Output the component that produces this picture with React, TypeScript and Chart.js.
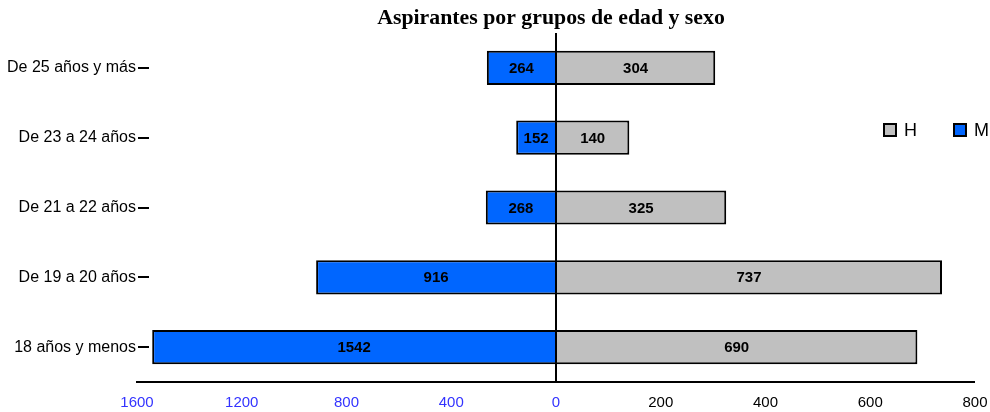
import React, { useEffect, useRef } from "react";
import { Chart, registerables } from "chart.js";

Chart.register(...registerables);

const categories = [
  "De 25 años y más",
  "De 23 a 24 años",
  "De 21 a 22 años",
  "De 19 a 20 años",
  "18 años y menos",
];
const mujeres = [264, 152, 268, 916, 1542];
const hombres = [304, 140, 325, 737, 690];
// left side of the axis is drawn at half scale (1600 on the left equals 800 on the right)
const leftScaleFactor = 2;
const xTickStep = 200;
const xMin = -800;
const xMax = 800;

const titleText = "Aspirantes por grupos de edad y sexo";
const BLUE = "#0066FF";
const GRAY = "#C0C0C0";
const SANS = "'Liberation Sans', Arial, sans-serif";

export default function App() {
  const ref = useRef<HTMLCanvasElement | null>(null);

  useEffect(() => {
    if (!ref.current) return;
    const overlay = {
      id: "overlay",
      afterDatasetsDraw(chart: any) {
        const ctx = chart.ctx;
        const area = chart.chartArea;
        const xScale = chart.scales.x;
        ctx.save();
        // zero line
        const x0 = Math.round(xScale.getPixelForValue(0));
        ctx.strokeStyle = "#000";
        ctx.lineWidth = 2;
        ctx.beginPath();
        ctx.moveTo(x0, area.top);
        ctx.lineTo(x0, area.bottom);
        ctx.stroke();
        // value labels
        ctx.font = "bold 15px " + SANS;
        ctx.fillStyle = "#000";
        ctx.textAlign = "center";
        ctx.textBaseline = "middle";
        chart.data.datasets.forEach((ds: any, di: number) => {
          const meta = chart.getDatasetMeta(di);
          meta.data.forEach((el: any, i: number) => {
            const p = el.getProps(["x", "y", "base"], true);
            const raw = di === 0 ? mujeres[i] : hombres[i];
            ctx.fillText(String(raw), (p.x + p.base) / 2, p.y + 1);
          });
        });
        // y tick dashes
        const yScale = chart.scales.y;
        ctx.strokeStyle = "#000";
        ctx.lineWidth = 2;
        categories.forEach((_c, i) => {
          const y = Math.round(yScale.getPixelForValue(i));
          ctx.beginPath();
          ctx.moveTo(area.left + 1, y);
          ctx.lineTo(area.left + 12, y);
          ctx.stroke();
        });
        // title
        ctx.font = "bold 21.8px 'Liberation Serif', 'Times New Roman', serif";
        ctx.fillStyle = "#000";
        ctx.textAlign = "center";
        ctx.textBaseline = "middle";
        ctx.fillText(titleText, 551, 18);
        // legend
        const items = [
          { label: "H", color: GRAY, x: 884 },
          { label: "M", color: BLUE, x: 954 },
        ];
        ctx.font = "18px " + SANS;
        ctx.textAlign = "left";
        items.forEach((it) => {
          ctx.fillStyle = it.color;
          ctx.fillRect(it.x, 124, 12, 12);
          ctx.lineWidth = 2;
          ctx.strokeStyle = "#000";
          ctx.strokeRect(it.x, 124, 12, 12);
          ctx.fillStyle = "#000";
          ctx.fillText(it.label, it.x + 20, 131);
        });
        ctx.restore();
      },
    };

    const chart = new Chart(ref.current, {
      type: "bar",
      data: {
        labels: categories,
        datasets: [
          {
            label: "M",
            data: mujeres.map((v) => -v / leftScaleFactor),
            backgroundColor: BLUE,
            borderColor: "#000",
            borderWidth: 2,
            borderSkipped: "start",
            barPercentage: 0.49,
            categoryPercentage: 1,
          },
          {
            label: "H",
            data: hombres,
            backgroundColor: GRAY,
            borderColor: "#000",
            borderWidth: 2,
            borderSkipped: "start",
            barPercentage: 0.49,
            categoryPercentage: 1,
          },
        ],
      },
      options: {
        indexAxis: "y",
        animation: false,
        responsive: true,
        maintainAspectRatio: false,
        layout: { padding: { top: 33, right: 0, left: 0, bottom: 0 } },
        plugins: {
          legend: { display: false },
          tooltip: { enabled: false },
          title: { display: false },
        },
        scales: {
          x: {
            stacked: true,
            min: xMin,
            max: xMax,
            ticks: {
              stepSize: xTickStep,
              padding: 12,
              maxRotation: 0,
              autoSkip: false,
              font: { family: SANS, size: 15 },
              color: (c: any) => (c.tick.value <= 0 ? "#3333FF" : "#000"),
              callback: (v: any) =>
                String(v < 0 ? -v * leftScaleFactor : v),
            },
            grid: {
              drawTicks: false,
              tickLength: 0,
              lineWidth: 0,
              color: "rgba(0,0,0,0)",
            },
            border: { display: true, color: "#000", width: 2 },
            afterFit: (s: any) => {
              s.height = 30;
              s.paddingRight = 15;
            },
          },
          y: {
            stacked: true,
            ticks: {
              padding: 1,
              font: { family: SANS, size: 16 },
              color: "#000",
            },
            grid: { display: false, drawTicks: false, tickLength: 0 },
            border: { display: false },
            afterFit: (s: any) => {
              s.width = 137;
            },
          },
        },
      },
      plugins: [overlay],
    });
    return () => chart.destroy();
  }, []);

  return (
    <div style={{ position: "fixed", left: 0, top: 0, width: 990, height: 412, background: "#fff" }}>
      <canvas ref={ref} />
    </div>
  );
}
